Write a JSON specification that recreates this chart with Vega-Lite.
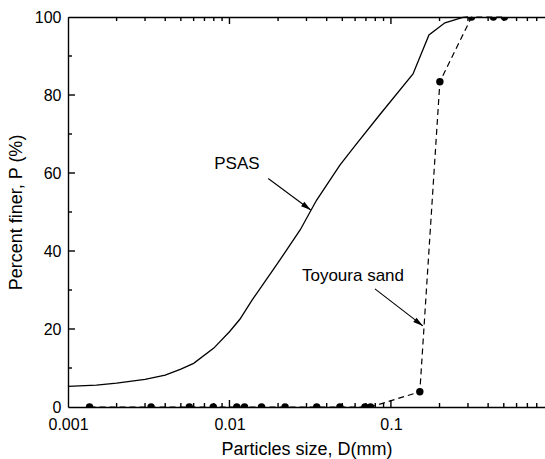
{
  "$schema": "https://vega.github.io/schema/vega-lite/v6.json",
  "width": 477,
  "height": 390,
  "autosize": {"type": "none"},
  "padding": {"left": 68, "top": 17, "right": 0, "bottom": 52},
  "background": "white",
  "config": {
    "view": {"stroke": null},
    "font": "Liberation Sans",
    "axis": {
      "domainColor": "black", "domainWidth": 1.4, "ticks": false, "grid": false,
      "labelColor": "black", "titleColor": "black", "labelFont": "Liberation Sans", "titleFont": "Liberation Sans",
      "labelFontSize": 16, "titleFontSize": 18, "titleFontWeight": "normal",
      "labelFlush": false, "labelOverlap": false
    }
  },
  "datasets": {
    "psas": [
      {"D": 0.001, "P": 5.3}, {"D": 0.0015, "P": 5.6}, {"D": 0.002, "P": 6.1}, {"D": 0.003, "P": 7.1},
      {"D": 0.004, "P": 8.2}, {"D": 0.005, "P": 9.7}, {"D": 0.006, "P": 11.2}, {"D": 0.008, "P": 15.1},
      {"D": 0.01, "P": 19.3}, {"D": 0.0116, "P": 22.5}, {"D": 0.0138, "P": 27.4}, {"D": 0.02, "P": 37},
      {"D": 0.0274, "P": 45.4}, {"D": 0.0346, "P": 53}, {"D": 0.0483, "P": 62}, {"D": 0.06, "P": 67},
      {"D": 0.0855, "P": 75}, {"D": 0.137, "P": 85.4}, {"D": 0.172, "P": 95.4}, {"D": 0.216, "P": 98.5},
      {"D": 0.279, "P": 99.9}, {"D": 0.3, "P": 100}
    ],
    "toyoura": [
      {"D": 0.00136, "P": 0}, {"D": 0.00327, "P": 0}, {"D": 0.00564, "P": 0}, {"D": 0.00794, "P": 0},
      {"D": 0.0111, "P": 0}, {"D": 0.0124, "P": 0}, {"D": 0.0158, "P": 0}, {"D": 0.0221, "P": 0},
      {"D": 0.0347, "P": 0}, {"D": 0.0483, "P": 0}, {"D": 0.069, "P": 0}, {"D": 0.0748, "P": 0},
      {"D": 0.151, "P": 3.9}, {"D": 0.201, "P": 83.4}, {"D": 0.316, "P": 100}, {"D": 0.431, "P": 100},
      {"D": 0.505, "P": 100}
    ],
    "arrows": [
      {"D1": 0.01738, "P1": 58.6, "D2": 0.03185, "P2": 50.5},
      {"D1": 0.0796, "P1": 30.3, "D2": 0.1578, "P2": 20.8}
    ],
    "labels": [
      {"label": "PSAS", "D": 0.01112, "P": 62.3},
      {"label": "Toyoura sand", "D": 0.0582, "P": 33.7}
    ],
    "xticks": [
      {"D": 0.001, "kind": "major"}, {"D": 0.002, "kind": "minor"}, {"D": 0.003, "kind": "minor"}, {"D": 0.004, "kind": "minor"},
      {"D": 0.005, "kind": "minor"}, {"D": 0.006, "kind": "minor"}, {"D": 0.007, "kind": "minor"}, {"D": 0.008, "kind": "minor"},
      {"D": 0.009, "kind": "minor"}, {"D": 0.01, "kind": "major"}, {"D": 0.02, "kind": "minor"}, {"D": 0.03, "kind": "minor"},
      {"D": 0.04, "kind": "minor"}, {"D": 0.05, "kind": "minor"}, {"D": 0.06, "kind": "minor"}, {"D": 0.07, "kind": "minor"},
      {"D": 0.08, "kind": "minor"}, {"D": 0.09, "kind": "minor"}, {"D": 0.1, "kind": "major"}, {"D": 0.2, "kind": "minor"},
      {"D": 0.3, "kind": "minor"}, {"D": 0.4, "kind": "minor"}, {"D": 0.5, "kind": "minor"}, {"D": 0.6, "kind": "minor"},
      {"D": 0.7, "kind": "minor"}, {"D": 0.8, "kind": "minor"}
    ],
    "yticks": [
      {"P": 10, "kind": "minor"}, {"P": 20, "kind": "major"}, {"P": 30, "kind": "minor"}, {"P": 40, "kind": "major"},
      {"P": 50, "kind": "minor"}, {"P": 60, "kind": "major"}, {"P": 70, "kind": "minor"}, {"P": 80, "kind": "major"},
      {"P": 90, "kind": "minor"}
    ]
  },
  "layer": [
    {
      "data": {"name": "psas"},
      "mark": {"type": "line", "color": "black", "strokeWidth": 1.3},
      "encoding": {
        "x": {"field": "D", "type": "quantitative", "scale": {"type": "log", "domain": [0.001, 0.9], "nice": false},
          "axis": {"orient": "bottom", "title": "Particles size, D(mm)", "values": [0.001, 0.01, 0.1],
            "labelExpr": "datum.value==0.001?'0.001':datum.value==0.01?'0.01':'0.1'",
            "labelPadding": 9, "titlePadding": 8}},
        "y": {"field": "P", "type": "quantitative", "scale": {"domain": [0, 100], "nice": false},
          "axis": {"orient": "left", "title": "Percent finer, P (%)", "values": [0, 20, 40, 60, 80, 100],
            "labelPadding": 7, "titlePadding": 9}}
      }
    },
    {
      "data": {"name": "toyoura"},
      "mark": {"type": "line", "color": "black", "strokeWidth": 1.2, "strokeDash": [6, 4]},
      "encoding": {
        "x": {"field": "D", "type": "quantitative", "scale": {"type": "log", "domain": [0.001, 0.9], "nice": false},
          "axis": {"orient": "top", "title": null, "labels": false, "values": [0.001]}},
        "y": {"field": "P", "type": "quantitative", "scale": {"domain": [0, 100], "nice": false}, "axis": null}
      }
    },
    {
      "data": {"name": "xticks"},
      "mark": {"type": "tick", "orient": "vertical", "color": "black", "thickness": 1.4, "opacity": 1, "clip": true},
      "encoding": {
        "x": {"field": "D", "type": "quantitative", "scale": {"type": "log", "domain": [0.001, 0.9], "nice": false}, "axis": null},
        "y": {"datum": 0, "type": "quantitative", "scale": {"domain": [0, 100], "nice": false}, "axis": null},
        "size": {"field": "kind", "type": "nominal", "scale": {"domain": ["major", "minor"], "range": [14, 8]}, "legend": null}
      }
    },
    {
      "data": {"name": "xticks"},
      "mark": {"type": "tick", "orient": "vertical", "color": "black", "thickness": 1.4, "opacity": 1, "clip": true},
      "encoding": {
        "x": {"field": "D", "type": "quantitative", "scale": {"type": "log", "domain": [0.001, 0.9], "nice": false}, "axis": null},
        "y": {"datum": 100, "type": "quantitative", "scale": {"domain": [0, 100], "nice": false}, "axis": null},
        "size": {"field": "kind", "type": "nominal", "scale": {"domain": ["major", "minor"], "range": [14, 8]}, "legend": null}
      }
    },
    {
      "data": {"name": "yticks"},
      "mark": {"type": "tick", "orient": "horizontal", "color": "black", "thickness": 1.4, "opacity": 1, "clip": true},
      "encoding": {
        "x": {"datum": 0.001, "type": "quantitative", "scale": {"type": "log", "domain": [0.001, 0.9], "nice": false}, "axis": null},
        "y": {"field": "P", "type": "quantitative", "scale": {"domain": [0, 100], "nice": false}, "axis": null},
        "size": {"field": "kind", "type": "nominal", "scale": {"domain": ["major", "minor"], "range": [14, 8]}, "legend": null}
      }
    },
    {
      "data": {"name": "toyoura"},
      "mark": {"type": "point", "filled": true, "color": "black", "size": 55, "opacity": 1, "clip": true},
      "encoding": {
        "x": {"field": "D", "type": "quantitative", "scale": {"type": "log", "domain": [0.001, 0.9], "nice": false}, "axis": null},
        "y": {"field": "P", "type": "quantitative", "scale": {"domain": [0, 100], "nice": false}, "axis": null}
      }
    },
    {
      "data": {"name": "arrows"},
      "mark": {"type": "rule", "color": "black", "strokeWidth": 1.1},
      "encoding": {
        "x": {"field": "D1", "type": "quantitative", "scale": {"type": "log", "domain": [0.001, 0.9], "nice": false}, "axis": null},
        "y": {"field": "P1", "type": "quantitative", "scale": {"domain": [0, 100], "nice": false}, "axis": null},
        "x2": {"field": "D2"},
        "y2": {"field": "P2"}
      }
    },
    {
      "data": {"name": "arrows"},
      "mark": {"type": "point", "filled": true, "color": "black", "opacity": 1, "shape": "M0,0L-2,-0.55L-2,0.55Z", "angle": 37, "strokeWidth": 0},
      "encoding": {
        "x": {"field": "D2", "type": "quantitative", "scale": {"type": "log", "domain": [0.001, 0.9], "nice": false}, "axis": null},
        "y": {"field": "P2", "type": "quantitative", "scale": {"domain": [0, 100], "nice": false}, "axis": null},
        "size": {"value": 100}
      }
    },
    {
      "data": {"name": "labels"},
      "mark": {"type": "text", "color": "black", "font": "Liberation Sans", "fontSize": 17, "align": "center", "baseline": "middle"},
      "encoding": {
        "x": {"field": "D", "type": "quantitative", "scale": {"type": "log", "domain": [0.001, 0.9], "nice": false}, "axis": null},
        "y": {"field": "P", "type": "quantitative", "scale": {"domain": [0, 100], "nice": false}, "axis": null},
        "text": {"field": "label"}
      }
    }
  ],
  "resolve": {"axis": {"x": "independent", "y": "independent"}}
}
